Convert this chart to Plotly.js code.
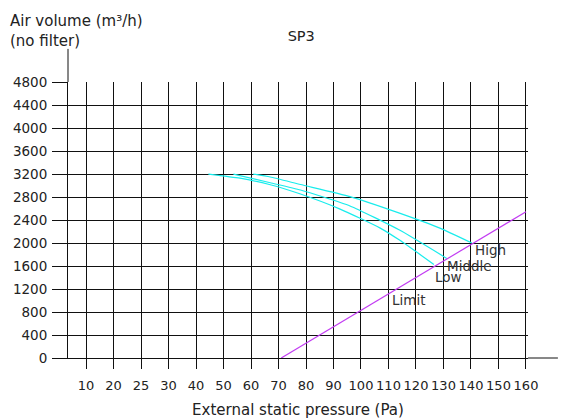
<!DOCTYPE html>
<html>
<head>
<meta charset="utf-8">
<script src="https://cdn.plot.ly/plotly-3.0.1.min.js"></script>
<style>html,body{margin:0;padding:0;background:#fff;}#chart{width:561px;height:420px;}</style>
</head>
<body>
<div id="chart"></div>
<script>
// Tick labels of the pressure axis (equally spaced on the chart)
const pressureTicks = [10, 20, 25, 30, 40, 50, 60, 70, 80, 90, 100, 110, 120, 130, 140, 150, 160];
const volumeTicks = [0, 400, 800, 1200, 1600, 2000, 2400, 2800, 3200, 3600, 4000, 4400, 4800];

// Fan curves (Pa, m3/h)
const lowPa    = [44.5, 56, 67, 78, 92.4, 107, 114, 126.5];
const lowVol   = [3200, 3128, 3015, 2853, 2591, 2260, 2051, 1628];
const midPa    = [53.6, 67, 78, 96, 114, 131.2];
const midVol   = [3200, 3049, 2923, 2645, 2226, 1733];
const highPa   = [60.8, 67, 78, 96, 114, 128.7, 140.3];
const highVol  = [3200, 3149, 3018, 2809, 2521, 2259, 2000];
// Limit line
const limitPa  = [71, 160];
const limitVol = [0, 2545];

const curveLabels = ["High", "Middle", "Low", "Limit"];

// map a pressure value onto the equally spaced tick positions (1..N)
function pos(pa) {
  const t = pressureTicks;
  if (pa <= t[0]) return 1 + (pa - t[0]) / (t[1] - t[0]);
  for (let i = 0; i < t.length - 1; i++) {
    if (pa <= t[i + 1]) return i + 1 + (pa - t[i]) / (t[i + 1] - t[i]);
  }
  const n = t.length;
  return n + (pa - t[n - 1]) / (t[n - 1] - t[n - 2]);
}
const tickPos = pressureTicks.map((_, i) => i + 1);

const cyan = '#18ecec';
const purple = '#c23cf2';
const font = 'DejaVu Sans, sans-serif';

const curveLine = {color: cyan, width: 1.2, shape: 'spline', smoothing: 0.5};
const traces = [
  {x: lowPa.map(pos), y: lowVol, mode: 'lines', line: curveLine, hoverinfo: 'skip'},
  {x: midPa.map(pos), y: midVol, mode: 'lines', line: curveLine, hoverinfo: 'skip'},
  {x: highPa.map(pos), y: highVol, mode: 'lines', line: curveLine, hoverinfo: 'skip'},
  {x: limitPa.map(pos), y: limitVol, mode: 'lines', line: {color: purple, width: 1.2}, hoverinfo: 'skip'}
];

const labelFont = {family: font, size: 13.5, color: '#333'};
const layout = {
  width: 561, height: 420,
  margin: {l: 68, r: 33, t: 82, b: 62},
  paper_bgcolor: '#fff', plot_bgcolor: '#fff',
  showlegend: false,
  title: {text: 'SP3', x: 0.537, xanchor: 'center', y: 0.915, yanchor: 'middle', font: {family: font, size: 14.5, color: '#222'}},
  xaxis: {
    range: [0.3455, 17.073], tickvals: tickPos, ticktext: pressureTicks.map(String),
    tickangle: 0,
    showgrid: true, gridcolor: '#111', gridwidth: 1, zeroline: false,
    showline: true, linecolor: '#111', linewidth: 1,
    ticks: 'outside', ticklen: 10, tickcolor: '#111', tickwidth: 1,
    ticklabelstandoff: 5,
    tickfont: {family: font, size: 13, color: '#222'},
    title: {text: 'External static pressure (Pa)', font: {family: font, size: 15, color: '#222'}, standoff: 12},
    automargin: false,
    fixedrange: true
  },
  yaxis: {
    range: [0, 4802], tickvals: volumeTicks, ticktext: volumeTicks.map(String),
    showgrid: true, gridcolor: '#111', gridwidth: 1, zeroline: false,
    showline: true, linecolor: '#111', linewidth: 1,
    ticks: 'outside', ticklen: 15, tickcolor: '#111', tickwidth: 1,
    ticklabelstandoff: 2,
    tickfont: {family: font, size: 13.5, color: '#222'},
    automargin: false,
    fixedrange: true
  },
  annotations: [
    {xref: 'paper', yref: 'paper', x: -0.131, y: 1.185, xanchor: 'left', yanchor: 'middle', showarrow: false, align: 'left',
     text: 'Air volume (m³/h)<br>(no filter)', font: {family: font, size: 15, color: '#222'}},
    {x: pos(140) + 0.08, y: 1880, xanchor: 'left', yanchor: 'middle', showarrow: false, text: curveLabels[0], font: labelFont},
    {x: pos(131) - 0.03, y: 1600, xanchor: 'left', yanchor: 'middle', showarrow: false, text: curveLabels[1], font: labelFont},
    {x: pos(126.5) - 0.02, y: 1405, xanchor: 'left', yanchor: 'middle', showarrow: false, text: curveLabels[2], font: labelFont},
    {x: pos(110.5), y: 1005, xanchor: 'left', yanchor: 'middle', showarrow: false, text: curveLabels[3], font: labelFont}
  ],
  shapes: [
    {type: 'line', xref: 'paper', yref: 'paper', x0: 0, x1: 0, y0: 1, y1: 1.12, line: {color: '#111', width: 1}},
    {type: 'line', xref: 'paper', yref: 'paper', x0: 1, x1: 1.065, y0: 0, y1: 0, line: {color: '#111', width: 1}}
  ]
};

Plotly.newPlot('chart', traces, layout, {displayModeBar: false, staticPlot: true});
</script>
</body>
</html>
